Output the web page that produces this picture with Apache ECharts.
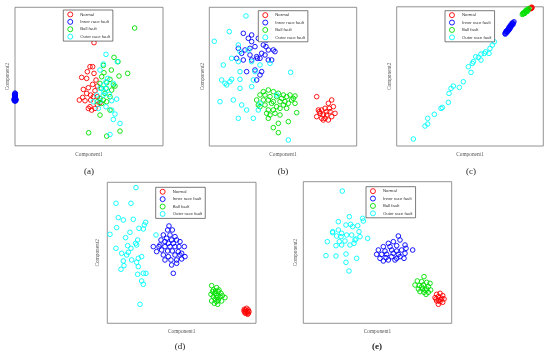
<!DOCTYPE html>
<html>
<head>
<meta charset="utf-8">
<script src="https://cdn.jsdelivr.net/npm/echarts@6/dist/echarts.min.js"></script>
<style>html,body{margin:0;padding:0;background:#fff}#c{width:550px;height:356px}</style>
</head>
<body>
<div id="c"></div>
<script>
// ---------- data ----------
const categories = ['Normal', 'Inner race fault', 'Ball fault', 'Outer race fault'];
const panelLabels = ['(a)', '(b)', '(c)', '(d)', '(e)'];
const xAxisName = 'Component1';
const yAxisName = 'Component2';
// axis extents (arbitrary component units)
const xMax = [444, 442, 440, 446, 445];
const yMax = [415, 416, 418, 423, 425];

// (a)
const aNormal = [[237,309],[225,237],[233,237],[217,222],[200,205],[215,202],[237,217],[243,197],[233,184],[220,174],[205,169],[215,157],[227,152],[240,165],[247,179],[193,137],[203,145],[210,135],[227,137],[247,147],[220,112],[230,107],[240,112],[247,124],[225,117],[255,129],[235,147]];
const aInner = [[0,158],[0,155],[1,152],[-1,150],[0,148],[1,146],[-1,144],[0,142],[2,141],[-2,140],[0,139],[1,138],[-1,137],[2,136],[0,135],[-2,135],[1,134],[3,137],[-3,139],[2,139],[0,145],[-1,153],[1,156],[0,150]];
const aBall = [[359,353],[297,265],[309,252],[338,217],[312,209],[289,227],[265,241],[267,219],[285,199],[300,179],[275,189],[260,172],[270,157],[285,147],[255,142],[265,137],[275,132],[255,92],[285,107],[315,44],[275,29],[221,39],[247,132],[260,207],[255,187],[290,167],[295,182],[273,172],[260,127]];
const aOuter = [[273,274],[307,252],[265,245],[255,227],[278,202],[273,192],[295,187],[265,182],[255,172],[275,172],[245,152],[265,152],[283,154],[305,140],[290,135],[235,132],[255,134],[273,117],[290,107],[295,79],[315,67],[285,34],[250,112],[267,162],[300,95]];

// (b)
const bNormal = [[322,148],[367,138],[357,128],[372,118],[327,108],[337,108],[347,113],[352,103],[362,103],[377,98],[332,98],[342,93],[352,93],[322,88],[337,83],[347,83],[367,88],[357,78],[342,78],[330,103],[360,113]];
const bInner = [[102,338],[117,323],[127,333],[147,323],[167,333],[177,338],[197,330],[172,318],[87,293],[107,288],[122,293],[137,298],[162,303],[177,288],[192,288],[197,283],[157,278],[142,268],[127,258],[144,263],[152,263],[167,273],[177,258],[187,258],[97,278],[82,263],[102,258],[122,273],[112,223],[137,228],[157,223],[142,198],[152,213],[170,298],[127,313]];
const bBall = [[162,163],[177,168],[192,163],[207,158],[222,153],[242,153],[257,150],[152,153],[167,153],[182,148],[202,148],[217,143],[232,148],[252,143],[142,138],[162,138],[177,138],[192,133],[212,133],[227,133],[247,138],[152,118],[167,123],[187,128],[202,118],[222,123],[237,128],[257,128],[177,108],[192,108],[212,113],[232,113],[262,100],[172,98],[182,93],[177,83],[212,93],[207,68],[237,73],[192,55],[207,40],[147,123],[197,98]];
const bOuter = [[110,390],[60,343],[15,314],[87,303],[117,288],[92,283],[67,263],[42,243],[87,253],[127,253],[152,243],[182,248],[92,223],[137,223],[244,221],[37,198],[67,200],[52,183],[92,200],[47,188],[127,178],[92,173],[32,133],[72,138],[97,123],[112,108],[87,83],[132,83],[147,108],[152,128],[132,198],[237,18],[62,193],[202,153]];

// (c)
const cNormal = [[403,414],[405,417],[406,415],[401,412],[404,413]];
const cInner = [[325,338],[327,340],[329,343],[330,345],[332,346],[333,349],[335,350],[336,352],[338,354],[339,356],[341,358],[342,360],[344,362],[345,364],[347,366],[348,368],[350,370],[352,373],[328,344],[331,341],[334,346],[337,356],[340,353],[343,358],[346,369],[349,365],[326,336],[335,347],[341,362],[338,350]];
const cBall = [[377,395],[379,397],[381,398],[383,400],[385,402],[387,404],[389,405],[391,407],[393,409],[395,411],[397,413],[380,400],[384,398],[388,408],[392,404]];
const cOuter = [[50,21],[85,60],[93,66],[93,83],[113,95],[133,113],[137,116],[155,131],[157,158],[163,173],[170,180],[188,176],[200,193],[223,221],[215,238],[227,248],[230,253],[237,268],[245,266],[253,258],[253,276],[263,278],[267,283],[277,278],[280,293],[287,303],[293,313]];

// (d)
const dNormal = [[411,42],[418,45],[423,40],[413,35],[420,33],[425,35],[416,30],[410,37],[421,27],[415,40],[419,37],[423,30],[413,31]];
const dInner = [[185,292],[181,280],[195,280],[168,265],[188,265],[203,260],[178,255],[193,250],[208,250],[161,250],[173,245],[183,240],[198,240],[218,245],[158,235],[173,230],[188,230],[203,230],[215,230],[231,230],[148,215],[163,220],[181,217],[195,217],[213,215],[223,210],[233,200],[168,205],[183,200],[203,205],[218,205],[173,190],[191,190],[208,190],[223,193],[193,175],[208,180],[198,150],[155,230],[138,230]];
const dBall = [[313,113],[328,107],[318,100],[333,95],[323,90],[341,90],[311,87],[318,80],[328,83],[338,80],[353,77],[323,73],[333,70],[313,67],[328,65],[343,67],[331,57],[321,60],[335,100],[325,97],[316,95],[345,83],[330,77]];
const dOuter = [[86,407],[26,360],[71,360],[33,317],[48,310],[78,312],[115,303],[111,295],[28,287],[95,285],[108,283],[8,267],[55,257],[68,273],[91,250],[146,265],[26,225],[61,233],[88,235],[71,225],[63,213],[58,205],[43,210],[48,187],[41,162],[50,173],[73,190],[93,195],[103,200],[88,183],[93,170],[91,147],[108,150],[116,150],[103,127],[108,117],[98,57],[85,240]];

// (e)
const eNormal = [[400,87],[410,90],[418,83],[395,77],[405,80],[415,75],[422,73],[400,67],[410,65],[418,63],[405,57],[398,73],[412,72],[406,69]];
const eInner = [[285,262],[255,240],[270,245],[290,250],[240,230],[260,230],[280,233],[305,235],[225,220],[245,217],[265,220],[280,217],[295,220],[308,225],[328,220],[220,207],[235,207],[250,207],[270,210],[285,207],[305,210],[230,195],[248,197],[265,200],[280,195],[302,195],[240,187],[255,190],[275,190],[290,200]];
const eBall = [[362,140],[342,127],[355,125],[370,123],[380,120],[335,115],[348,113],[360,115],[375,110],[345,103],[358,103],[370,103],[382,100],[350,95],[362,93],[375,93],[368,87],[355,109],[365,100]];
const eOuter = [[117,397],[138,320],[178,315],[180,307],[105,305],[128,295],[142,297],[163,293],[148,290],[88,275],[105,280],[115,270],[130,265],[145,265],[167,275],[193,255],[100,262],[113,260],[158,253],[72,245],[108,245],[125,247],[140,235],[152,240],[155,250],[98,233],[115,235],[68,203],[98,202],[128,208],[160,195],[128,183],[137,157],[88,272],[170,260]];

const panelData = [
  [aNormal, aInner, aBall, aOuter],
  [bNormal, bInner, bBall, bOuter],
  [cNormal, cInner, cBall, cOuter],
  [dNormal, dInner, dBall, dOuter],
  [eNormal, eInner, eBall, eOuter]
];

// ---------- layout / style ----------
const colors = ['#ff0000', '#0000ff', '#00e000', '#00ffff'];
const grids = [
  {left: 15, top: 7.3, width: 148, height: 138.5},
  {left: 209.3, top: 7.3, width: 147.4, height: 138.7},
  {left: 396.7, top: 6.8, width: 146.6, height: 139.2},
  {left: 107.3, top: 182.3, width: 148.7, height: 141},
  {left: 303.3, top: 181.7, width: 148.4, height: 141.6}
];
const legendPos = [
  {left: 63.3, top: 10},
  {left: 258.3, top: 10.7},
  {left: 445, top: 10.7},
  {left: 155.7, top: 187.3},
  {left: 366, top: 186.7}
];
const yNameGap = [5, 4.5, 4.7, 7, 5];
const labelPos = [
  {x: 89, y: 167},
  {x: 283, y: 167},
  {x: 471, y: 167},
  {x: 180, y: 342},
  {x: 377, y: 342}
];

const option = {
  animation: false,
  backgroundColor: '#fff',
  grid: grids.map(g => Object.assign({show: true, borderColor: '#777', borderWidth: 0.8, backgroundColor: 'transparent'}, g)),
  xAxis: grids.map((g, i) => ({
    type: 'value', gridIndex: i, min: 0, max: xMax[i],
    axisLine: {show: false}, axisTick: {show: false}, axisLabel: {show: false}, splitLine: {show: false},
    name: xAxisName, nameLocation: 'middle', nameGap: 6,
    nameTextStyle: {fontFamily: 'Liberation Serif', fontSize: 5.3, color: '#555'}
  })),
  yAxis: grids.map((g, i) => ({
    type: 'value', gridIndex: i, min: 0, max: yMax[i],
    axisLine: {show: false}, axisTick: {show: false}, axisLabel: {show: false}, splitLine: {show: false},
    name: yAxisName, nameLocation: 'middle', nameGap: yNameGap[i], nameRotate: 90,
    nameTextStyle: {fontFamily: 'Liberation Serif', fontSize: 5.3, color: '#555'}
  })),
  legend: legendPos.map(p => ({
    orient: 'vertical', left: p.left, top: p.top,
    padding: [1.5, 3, 1.5, 4], itemWidth: 10, itemHeight: 5, itemGap: 1.5,
    borderColor: '#444', borderWidth: 0.7, backgroundColor: '#fff',
    selectedMode: false,
    textStyle: {fontFamily: 'Liberation Sans', fontSize: 4.3, color: '#333'},
    data: categories.map((n, k) => ({name: n, icon: 'circle', itemStyle: {color: 'rgba(0,0,0,0)', borderColor: colors[k], borderWidth: 0.9}}))
  })),
  title: panelLabels.map((t, i) => ({
    text: t, left: labelPos[i].x, top: labelPos[i].y, textAlign: 'center', padding: 0,
    textStyle: {fontFamily: 'Liberation Serif', fontSize: 9, fontWeight: i === 4 ? 'bold' : 'normal', color: '#222'}
  })),
  series: []
};

panelData.forEach((sets, i) => {
  sets.forEach((pts, k) => {
    option.series.push({
      type: 'scatter', name: categories[k], xAxisIndex: i, yAxisIndex: i,
      data: pts, symbol: 'circle', symbolSize: 4.6, clip: false,
      itemStyle: {color: 'rgba(0,0,0,0)', borderColor: colors[k], borderWidth: 0.9, opacity: 1},
      emphasis: {disabled: true}
    });
  });
});

const chart = echarts.init(document.getElementById('c'), null, {renderer: 'canvas'});
chart.setOption(option);
</script>
</body>
</html>
